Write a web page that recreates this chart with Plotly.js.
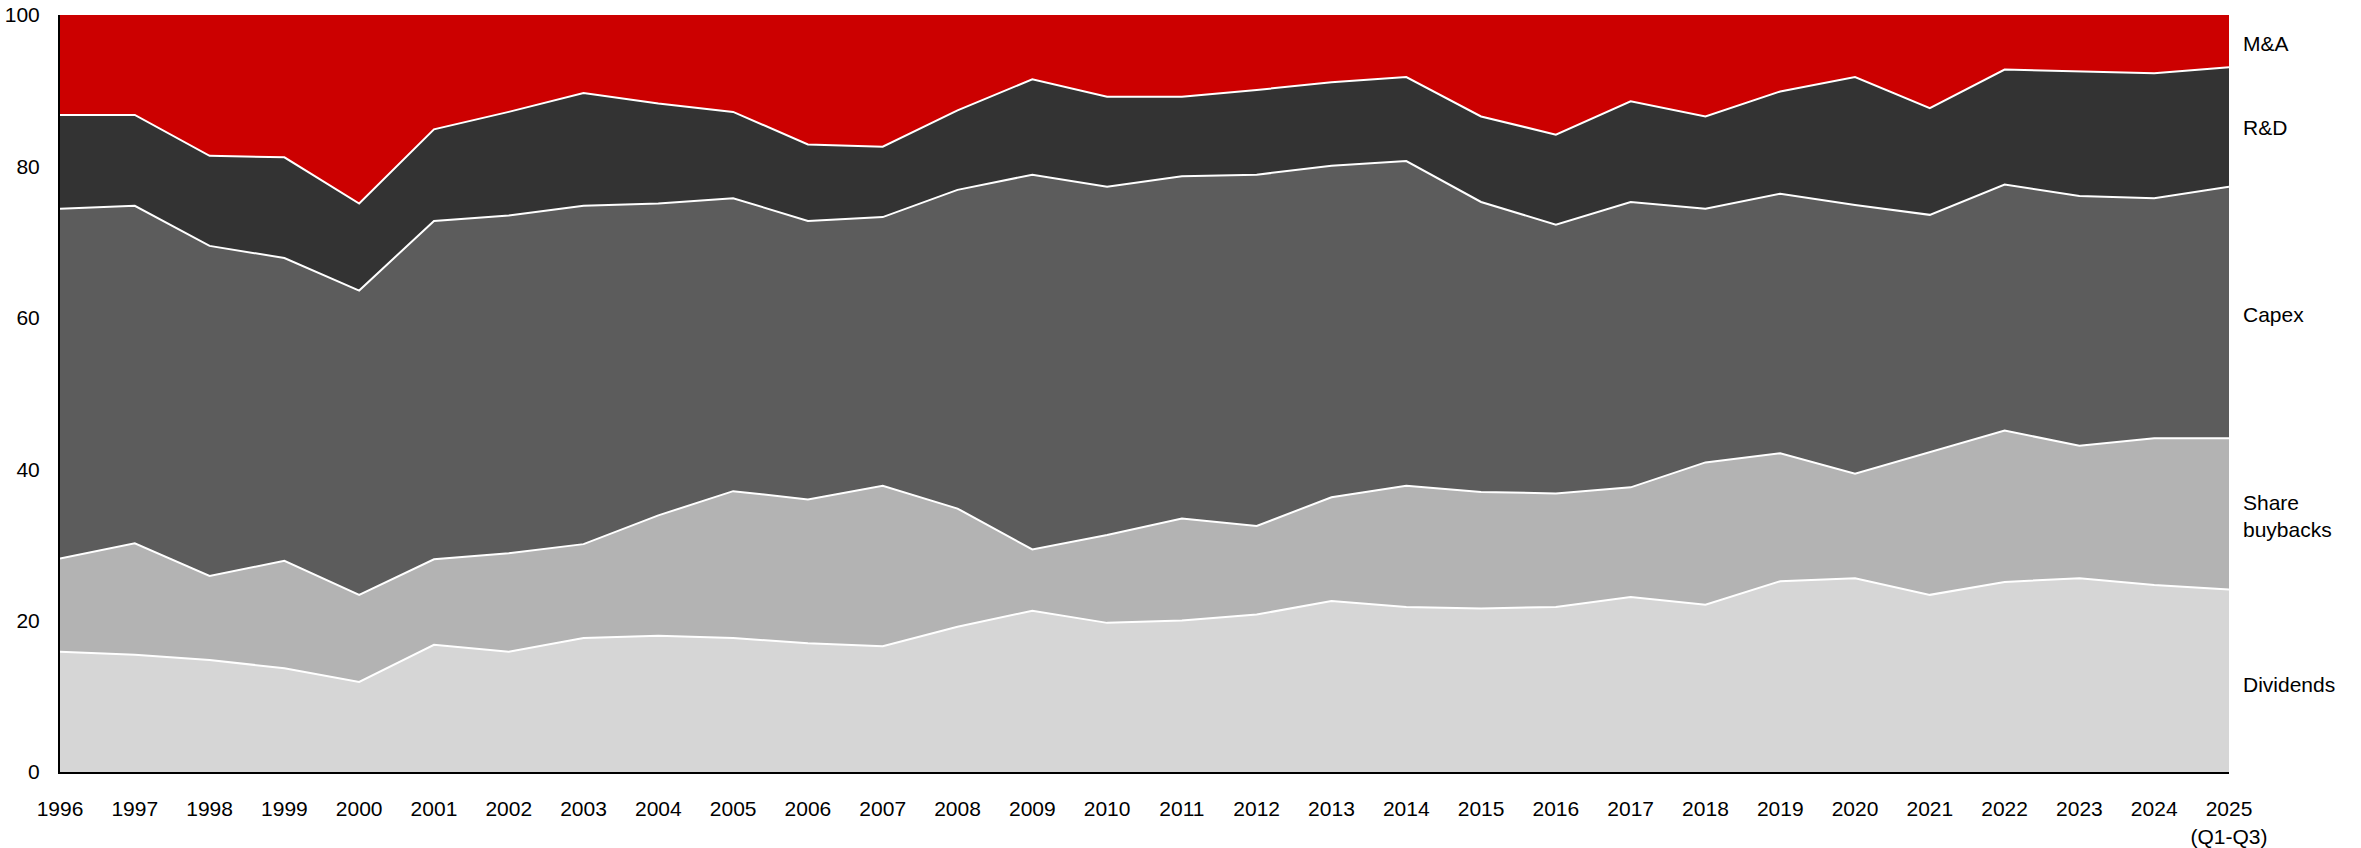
<!DOCTYPE html>
<html>
<head>
<meta charset="utf-8">
<script src="https://cdn.plot.ly/plotly-3.0.1.min.js"></script>
<style>html,body{margin:0;padding:0;background:#fff;}#chart{width:2361px;height:848px;}</style>
</head>
<body>
<div id="chart"></div>
<script>
const years = [1996,1997,1998,1999,2000,2001,2002,2003,2004,2005,2006,2007,2008,2009,2010,2011,2012,2013,2014,2015,2016,2017,2018,2019,2020,2021,2022,2023,2024,2025];
const yearLabels = ["1996","1997","1998","1999","2000","2001","2002","2003","2004","2005","2006","2007","2008","2009","2010","2011","2012","2013","2014","2015","2016","2017","2018","2019","2020","2021","2022","2023","2024","2025<br>(Q1-Q3)"];
const dividends = [15.9,15.5,14.8,13.7,11.9,16.8,15.9,17.7,18.0,17.7,17.0,16.6,19.2,21.3,19.7,20.0,20.8,22.6,21.8,21.6,21.8,23.1,22.1,25.2,25.6,23.4,25.1,25.6,24.7,24.1];
const buybacks  = [12.3,14.7,11.1,14.2,11.5,11.3,13.0,12.4,15.9,19.4,19.0,21.2,15.6,8.1,11.6,13.5,11.7,13.7,16.0,15.4,15.0,14.5,18.8,16.9,13.8,18.8,20.0,17.5,19.4,20.0];
const capex     = [46.2,44.6,43.6,40.0,40.2,44.7,44.6,44.7,41.2,38.7,36.8,35.5,42.1,49.5,46.0,45.2,46.4,43.8,42.9,38.3,35.5,37.7,33.5,34.3,35.5,31.4,32.5,33.0,31.7,33.2];
const rnd       = [12.4,12.0,11.9,13.3,11.5,12.1,13.7,14.9,13.2,11.4,10.1,9.3,10.5,12.6,11.9,10.5,11.2,11.0,11.1,11.3,11.9,13.3,12.2,13.5,16.9,14.1,15.2,16.5,16.5,15.8];
const mna       = [13.2,13.2,18.6,18.8,24.9,15.1,12.8,10.3,11.7,12.8,17.1,17.4,12.6,8.5,10.8,10.8,9.9,8.9,8.2,13.4,15.8,11.4,13.4,10.1,8.2,12.3,7.2,7.4,7.7,6.9];
const seriesNames = ["Dividends","Share<br>buybacks","Capex","R&D","M&A"];

const series = [dividends, buybacks, capex, rnd, mna];
const fills = ["#d6d6d6","#b3b3b3","#5c5c5c","#333333","#cc0000"];
const labelY = [11.5, 33.8, 60.4, 85.1, 96.3];

const traces = series.map((vals, i) => ({
  type: "scatter",
  mode: "lines",
  x: years,
  y: vals,
  name: seriesNames[i],
  stackgroup: "one",
  fillcolor: fills[i],
  line: {color: "#ffffff", width: i === 4 ? 0 : 2, shape: "linear"},
  hoverinfo: "skip"
}));

const font = {family: "Liberation Sans, Arial, sans-serif", size: 21, color: "#000"};

const annotations = seriesNames.map((n, i) => ({
  xref: "paper", yref: "y",
  x: 1, y: labelY[i],
  xshift: 12,
  xanchor: "left", yanchor: "middle",
  align: "left",
  text: n,
  showarrow: false,
  font: font
}));

const layout = {
  width: 2361, height: 848,
  margin: {l: 60, r: 132, t: 15, b: 76},
  paper_bgcolor: "#fff",
  plot_bgcolor: "#fff",
  showlegend: false,
  font: font,
  xaxis: {
    range: [1996, 2025],
    tickmode: "array",
    tickvals: years,
    ticktext: yearLabels,
    showgrid: false,
    zeroline: false,
    showline: true,
    linecolor: "#000",
    linewidth: 2,
    ticks: "",
    ticklabelstandoff: 17,
    tickfont: font,
    fixedrange: true
  },
  yaxis: {
    range: [0, 100],
    tickmode: "array",
    tickvals: [0,20,40,60,80,100],
    showgrid: false,
    zeroline: false,
    showline: true,
    linecolor: "#000",
    linewidth: 2,
    ticks: "",
    ticklabelstandoff: 14,
    tickfont: font,
    fixedrange: true
  },
  annotations: annotations
};

Plotly.newPlot("chart", traces, layout, {staticPlot: true, displayModeBar: false});
</script>
</body>
</html>
